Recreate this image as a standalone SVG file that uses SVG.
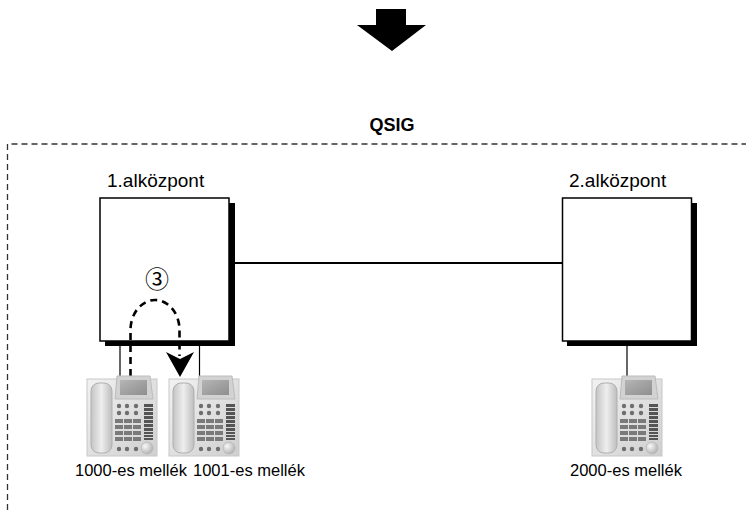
<svg xmlns="http://www.w3.org/2000/svg" width="750" height="515" viewBox="0 0 750 515">
  <defs>
    <style>
      text { font-family: "Liberation Sans", Arial, sans-serif; fill: #000; }
      .lbl { font-size: 16.5px; }
      .hdr { font-size: 19px; }
      .ttl { font-size: 18px; font-weight: bold; }
      .box { fill: #fff; stroke: #000; stroke-width: 1.5; }
      .shadow { fill: #000; }
      .wire { stroke: #000; stroke-width: 1.2; fill: none; }
      .trunk { stroke: #000; stroke-width: 2; fill: none; }
      .flow { stroke: #000; stroke-width: 2.6; fill: none; stroke-dasharray: 7 5; }
      .frame { stroke: #333; stroke-width: 1.3; fill: none; stroke-dasharray: 6 4; }
    </style>
    <linearGradient id="bodyGrad" x1="0" y1="0" x2="1" y2="1">
      <stop offset="0" stop-color="#f2f2f2"/>
      <stop offset="1" stop-color="#cfcfcf"/>
    </linearGradient>
    <linearGradient id="handsetGrad" x1="0" y1="0" x2="1" y2="0">
      <stop offset="0" stop-color="#c4c4c4"/>
      <stop offset="0.5" stop-color="#eeeeee"/>
      <stop offset="1" stop-color="#bdbdbd"/>
    </linearGradient>
    <linearGradient id="screenGrad" x1="0" y1="0" x2="1" y2="1">
      <stop offset="0" stop-color="#b5b5b5"/>
      <stop offset="1" stop-color="#8e8e8e"/>
    </linearGradient>
    <radialGradient id="knobGrad" cx="0.35" cy="0.35" r="0.7">
      <stop offset="0" stop-color="#f8f8f8"/>
      <stop offset="1" stop-color="#b0b0b0"/>
    </radialGradient>
    <!-- desk telephone icon, origin at top-left of its base -->
    <symbol id="phone" overflow="visible">
      <rect x="0" y="0" width="70" height="77" fill="url(#bodyGrad)" stroke="#c8c8c8" stroke-width="1"/>
      <!-- display -->
      <path d="M30,-3 H63 L66,20 H28 Z" fill="#d2d2d2" stroke="#bcbcbc" stroke-width="1"/>
      <rect x="33" y="1" width="27" height="15" fill="url(#screenGrad)"/>
      <!-- handset -->
      <rect x="4" y="4" width="21" height="70" rx="8" fill="url(#handsetGrad)" stroke="#b0b0b0" stroke-width="1"/>
      <!-- function keys -->
      <g fill="#6e6e6e">
        <circle cx="32" cy="27" r="2.2"/><circle cx="40" cy="27" r="2.2"/><circle cx="49" cy="27" r="2.2"/>
        <circle cx="32" cy="34" r="2.2"/><circle cx="40" cy="34" r="2.2"/><circle cx="49" cy="34" r="2.2"/>
      </g>
      <!-- dial pad -->
      <g fill="#7a7a7a">
        <rect x="28" y="40" width="8" height="4"/><rect x="37" y="40" width="8" height="4"/><rect x="46" y="40" width="8" height="4"/>
        <rect x="28" y="46" width="8" height="4"/><rect x="37" y="46" width="8" height="4"/><rect x="46" y="46" width="8" height="4"/>
        <rect x="28" y="52" width="8" height="4"/><rect x="37" y="52" width="8" height="4"/><rect x="46" y="52" width="8" height="4"/>
        <rect x="28" y="58" width="8" height="4"/><rect x="37" y="58" width="8" height="4"/><rect x="46" y="58" width="8" height="4"/>
      </g>
      <!-- programmable key column -->
      <g fill="#555">
        <rect x="57" y="25" width="9" height="3"/><rect x="57" y="29" width="9" height="3"/>
        <rect x="57" y="33" width="9" height="3"/><rect x="57" y="37" width="9" height="3"/>
        <rect x="57" y="41" width="9" height="3"/><rect x="57" y="45" width="9" height="3"/>
        <rect x="57" y="49" width="9" height="3"/><rect x="57" y="53" width="9" height="2"/>
        <rect x="57" y="56" width="9" height="2"/><rect x="57" y="59" width="9" height="2"/>
      </g>
      <g fill="#6e6e6e">
        <circle cx="32" cy="70" r="2.2"/><circle cx="40" cy="70" r="2.2"/><circle cx="49" cy="70" r="2.2"/>
      </g>
      <circle cx="60" cy="69" r="6" fill="url(#knobGrad)" stroke="#b8b8b8" stroke-width="0.8"/>
    </symbol>
  </defs>

  <rect width="750" height="515" fill="#fff"/>

  <!-- block arrow at the top -->
  <path id="down-arrow" d="M376,9 H406 V25 H426 L392,51 L357,25 H376 Z" fill="#000"/>

  <!-- QSIG network frame -->
  <g id="qsig">
    <path class="frame" d="M7.5,510 V144 H746"/>
    <text class="ttl" x="392" y="131" text-anchor="middle">QSIG</text>
  </g>

  <!-- PBX 1 -->
  <g id="pbx1">
    <rect class="shadow" x="105" y="203" width="130" height="143"/>
    <rect class="box" x="100" y="198" width="129" height="143"/>
    <text class="hdr" x="107" y="187">1.alközpont</text>
    <text x="157" y="288" text-anchor="middle" style="font-family:'Noto Sans CJK JP',sans-serif;font-size:24px">③</text>
  </g>

  <!-- PBX 2 -->
  <g id="pbx2">
    <rect class="shadow" x="567" y="203" width="130" height="143"/>
    <rect class="box" x="562.5" y="198" width="129" height="143"/>
    <text class="hdr" x="569" y="187">2.alközpont</text>
  </g>

  <!-- connectors -->
  <g id="connectors">
    <line class="trunk" x1="234" y1="263" x2="563" y2="263"/>
    <line class="wire" x1="120" y1="346" x2="120" y2="377"/>
    <line class="wire" x1="199.5" y1="346" x2="199.5" y2="377"/>
    <line class="wire" x1="627" y1="346" x2="627" y2="377"/>
    <path class="flow" d="M130.5,376 V330 A24.5,30 0 0 1 179.5,330 V356"/>
    <path d="M166,352 L180,359 L194,352 L180,377 Z" fill="#000"/>
  </g>

  <!-- extensions -->
  <g id="ext1000">
    <use href="#phone" x="87" y="379"/>
    <text class="lbl" x="75" y="476">1000-es mellék</text>
  </g>
  <g id="ext1001">
    <use href="#phone" x="169" y="379"/>
    <text class="lbl" x="193" y="476">1001-es mellék</text>
  </g>
  <g id="ext2000">
    <use href="#phone" x="592" y="379"/>
    <text class="lbl" x="570" y="476">2000-es mellék</text>
  </g>
</svg>
